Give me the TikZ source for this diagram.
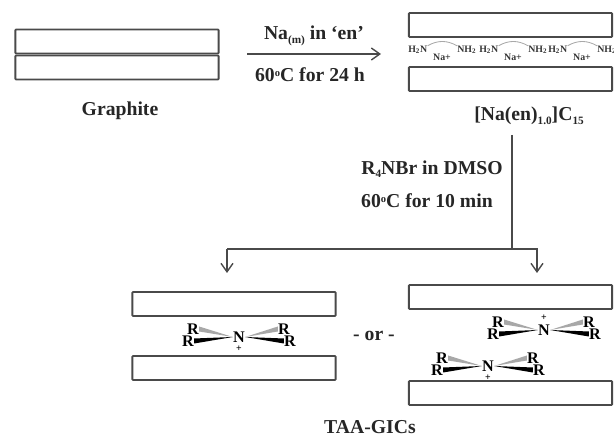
\documentclass[tikz,border=0pt]{standalone}
\usepackage{fontspec}
\setmainfont{Liberation Serif}
\usetikzlibrary{arrows.meta,positioning,calc}
\definecolor{gicLine}{HTML}{4A4A4A}
\definecolor{gicDash}{HTML}{A8A8A8}
\newcommand{\ensub}[1]{\raisebox{-2.5pt}{\fontsize{8}{8}\selectfont\bfseries #1}}
\newcommand{\ensup}[1]{\raisebox{4pt}{\fontsize{7.5}{8}\selectfont\bfseries #1}}

\begin{document}
\begin{tikzpicture}[x=0.025cm,y=-0.025cm,font=\fontsize{14}{16}\selectfont\bfseries,
      sheet/.style={draw=gicLine,fill=white,line width=1.3pt,minimum width=5.08cm,
                    minimum height=0.6cm,inner sep=0pt,rounded corners=0.5pt},
      lbl/.style={inner sep=0pt,text=black!85},
      conn/.style={draw=gicLine,line width=1pt},
      tip/.style={-{Straight Barb[length=6pt,width=8.5pt]}},
      rr/.style={inner sep=0pt,font=\fontsize{11.5}{11.5}\selectfont\bfseries},
      en/.style={inner sep=0pt,font=\fontsize{7}{7}\selectfont\bfseries,text=black!80}]

    \useasboundingbox (0,0) rectangle (614,438);

    % graphite
    \node[sheet] (g1) at (117,41.5) {};
    \node[sheet] (g2) at (117,67.5) {};
    \node[lbl] (gl) at (120,111) {Graphite};

    % first step
    \coordinate (a0) at (247,54);
    \coordinate (a1) at (381,54);
    \draw[conn,tip] (a0) -- (a1);
    \node[lbl] (a2) at (314,36) {Na\ensub{(m)} in ‘en’};
    \node[lbl] (a3) at (310,75) {60\ensup{o}C for 24 h};

    % intercalated sodium
    \node[sheet] (n1) at (510.5,25) {};
    \node[sheet] (n2) at (510.5,79) {};
    \node[lbl] (nl) at (529,116) {[Na(en)\ensub{1.0}]C\ensub{15}};
    \foreach \i/\x in {1/0,2/71,3/140}{
      \node[en,anchor=west] (h\i) at (408+\x,50) {H\textsubscript{2}N};
      \node[en,anchor=west] (m\i) at (457+\x,50) {NH\textsubscript{2}};
      \node[en] (s\i) at (442+\x,57.5) {Na+};
      \draw[gicDash,line width=0.6pt] (h\i.north east) to[out=30,in=150] (m\i.north west);
    }

    % second step
    \coordinate (b0) at (512,135);
    \coordinate (b1) at (512,249);
    \coordinate (c0) at (227,249);
    \coordinate (c1) at (537,249);
    \coordinate (d0) at (227,273);
    \coordinate (d1) at (537,273);
    \draw[conn] (b0) -- (b1);
    \draw[conn,tip] (c0) -- (d0);
    \draw[conn,tip] (c0) -- (c1) -- (d1);
    \node[lbl] (b2) at (432,169) {R\ensub{4}NBr in DMSO};
    \node[lbl] (b3) at (427,201) {60\ensup{o}C for 10 min};

    % left product
    \node[sheet] (l1) at (234,304) {};
    \node[sheet] (l2) at (234,368) {};

    % right product
    \node[sheet] (r1) at (510.5,297) {};
    \node[sheet] (r2) at (510.5,393) {};

    % ammonium ions
    \foreach \n/\x/\y/\s in {p/239/337/below,q/544/330/above,t/488/366/below}{
      \node[rr] (N\n) at (\x,\y) {N};
      \node[rr] (A\n) at (\x-46,\y-8) {R};
      \node[rr] (B\n) at (\x-51,\y+4) {R};
      \node[rr] (C\n) at (\x+45,\y-8) {R};
      \node[rr] (D\n) at (\x+51,\y+4) {R};
      \node[inner sep=0pt,font=\fontsize{7}{7}\selectfont\bfseries,\s=2.5pt of N\n] (P\n) {+};
      \fill[gicDash] (N\n.west) -- ($(A\n.east)+(0,-2.5)$) -- ($(A\n.east)+(0,2.5)$) -- cycle;
      \fill[gicDash] (N\n.east) -- ($(C\n.west)+(0,-2.5)$) -- ($(C\n.west)+(0,2.5)$) -- cycle;
      \fill[black] (N\n.west) -- ($(B\n.east)+(0,-2.5)$) -- ($(B\n.east)+(0,2.5)$) -- cycle;
      \fill[black] (N\n.east) -- ($(D\n.west)+(0,-2.5)$) -- ($(D\n.west)+(0,2.5)$) -- cycle;
    }

    \node[lbl] (or) at (374,336) {- or -};
    \node[lbl] (tl) at (370,427) {TAA-GICs};
\end{tikzpicture}
\end{document}
